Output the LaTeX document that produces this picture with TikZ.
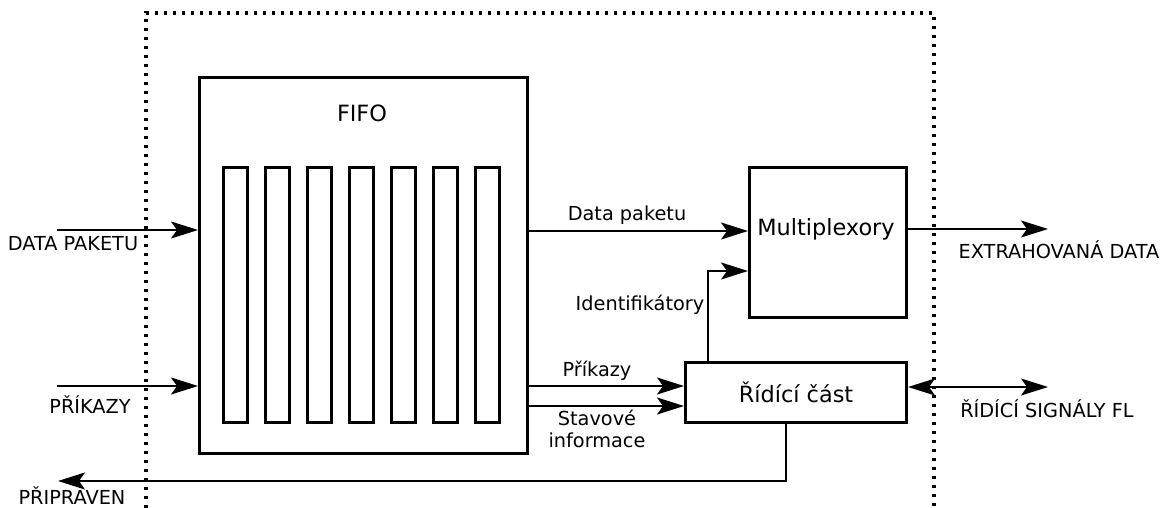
\documentclass[tikz,border=0pt]{standalone}
\usepackage{fontspec}
\setmainfont{DejaVu Sans}
\usetikzlibrary{arrows.meta}
\begin{document}
\begin{tikzpicture}[x=1pt,y=-1pt,
  box/.style={draw,line width=3pt,inner sep=0pt,anchor=north west},
  bar/.style={draw,line width=3pt,inner sep=0pt,anchor=north west,minimum width=24pt,minimum height=255pt},
  lbl/.style={inner sep=0pt,font=\fontsize{19.3}{22.5}\selectfont},
  big/.style={inner sep=0pt,font=\fontsize{22.4}{25}\selectfont},
  arr/.style={line width=1.7pt,-{Stealth[length=27pt,width=17pt,inset=6pt]}},
  dbl/.style={line width=1.7pt,{Stealth[length=27pt,width=17pt,inset=6pt]}-{Stealth[length=27pt,width=17pt,inset=6pt]}},
  border/.style={line width=3.2pt,dash pattern=on 3.2pt off 5.8pt}
]
\useasboundingbox (0,0) rectangle (1167,508);

% outline of the block (open at the bottom)
\draw[border] (146,508) -- (146,13) -- (934,13) -- (934,508);

% FIFO with its storage cells
\node[box,minimum width=328pt,minimum height=376pt] (fifo) at (198,76) {};
\node[big] (fifolbl) at (362,113) {FIFO};
\foreach \i in {0,...,6}
  \node[bar] (cell\i) at (222+42*\i,166) {};

% multiplexers and control unit
\node[box,minimum width=157pt,minimum height=150pt] (mux) at (748,166) {};
\node[big] (muxlbl) at (826,229) {Multiplexory};
\node[box,minimum width=221pt,minimum height=60pt] (ctrl) at (684,361) {};
\node[big] (ctrllbl) at (796,392) {Řídící část};

% free ends of the external signals
\coordinate (datain) at (57,230);
\coordinate (cmdin) at (57,386);
\coordinate (readyout) at (58,481);
\coordinate (dataout) at (1048,229);
\coordinate (sigout) at (1048,387);

% inputs
\draw[arr] (datain) -- (datain -| fifo.west);
\node[lbl] (datainlbl) at (73,244) {DATA PAKETU};
\draw[arr] (cmdin) -- (cmdin -| fifo.west);
\node[lbl] (cmdinlbl) at (90,405) {PŘÍKAZY};

% internal connections
\draw[arr] (fifo.east |- 0,231) -- (mux.west |- 0,231);
\node[lbl] (dplbl) at (627,215) {Data paketu};
\draw[arr] (fifo.east |- 0,386) -- (ctrl.west |- 0,386);
\node[lbl] (cmdlbl) at (597,371) {Příkazy};
\draw[arr] (fifo.east |- 0,406) -- (ctrl.west |- 0,406);
\node[lbl,align=center] (statlbl) at (597,429) {Stavové\\informace};
\draw[arr] (ctrl.north -| 708,0) |- (mux.west |- 0,271);
\node[lbl] (idlbl) at (640,305) {Identifikátory};

% outputs
\draw[arr] (mux.east |- dataout) -- (dataout);
\node[lbl] (dataoutlbl) at (1059,250) {EXTRAHOVANÁ DATA};
\draw[dbl] (ctrl.east |- sigout) -- (sigout);
\node[lbl] (sigoutlbl) at (1047,409) {ŘÍDÍCÍ SIGNÁLY FL};
\draw[arr] (ctrl.south -| 786,0) |- (readyout);
\node[lbl,anchor=base] (readylbl) at (72,504) {PŘIPRAVEN};
\end{tikzpicture}
\end{document}
